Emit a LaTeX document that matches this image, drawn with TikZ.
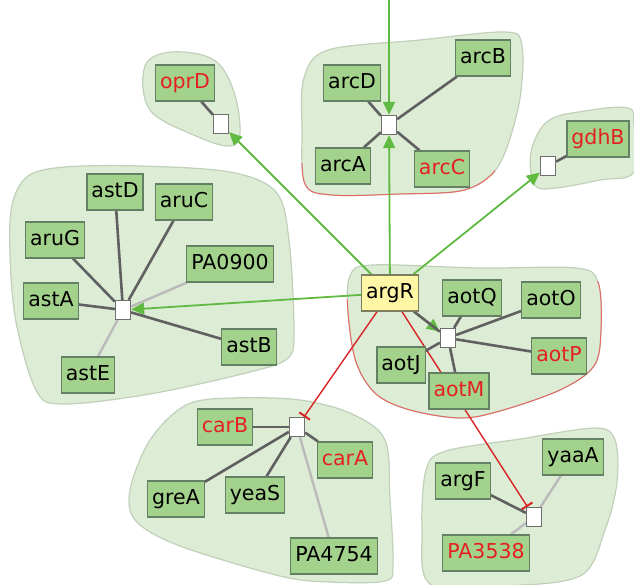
\documentclass[tikz,border=0pt]{standalone}
\usepackage{fontspec}
\setmainfont{DejaVu Sans}
\usetikzlibrary{arrows.meta}
\pgfdeclarelayer{hulls}
\pgfdeclarelayer{links}
\pgfsetlayers{hulls,links,main}

\definecolor{hullfill}{RGB}{221,236,213}
\definecolor{hullline}{RGB}{192,208,186}
\definecolor{hullred}{RGB}{228,105,100}
\definecolor{genefill}{RGB}{163,210,140}
\definecolor{geneline}{RGB}{100,128,100}
\definecolor{tfill}{RGB}{255,247,165}
\definecolor{tline}{RGB}{125,125,95}
\definecolor{namered}{RGB}{228,32,32}
\definecolor{actgreen}{RGB}{96,186,66}
\definecolor{repred}{RGB}{216,36,36}
\definecolor{strong}{RGB}{96,96,96}
\definecolor{weak}{RGB}{186,186,186}
\definecolor{hubline}{RGB}{110,110,110}

\newcommand\genefont{\fontsize{20.5}{24}\selectfont}

% outlines of the complexes (pixel grid, y downwards)
\newcommand\oprDhull{plot[smooth cycle,tension=0.6] coordinates {(145,66) (172,52) (214,60) (234,92) (240,134) (229,146) (196,136) (150,110)}}
\newcommand\archull{plot[smooth cycle,tension=0.55] coordinates {(304,78) (328,50) (420,40) (506,32) (522,46) (520,98) (506,150) (490,176) (460,191) (400,194) (332,195) (305,184) (302,130)}}
\newcommand\gdhBhull{plot[smooth cycle,tension=0.6] coordinates {(531,152) (548,121) (585,111) (628,108) (634,125) (634,172) (600,180) (556,188) (535,185)}}
\newcommand\asthull{plot[smooth cycle,tension=0.55] coordinates {(12,205) (28,176) (65,167) (140,166) (230,172) (276,192) (289,240) (294,330) (288,358) (250,372) (150,394) (62,404) (36,390) (16,322) (10,255)}}
\newcommand\aothull{plot[smooth cycle,tension=0.55] coordinates {(350,276) (372,265) (480,268) (576,268) (598,282) (601,330) (594,366) (560,390) (500,411) (460,418) (410,410) (376,394) (356,362) (348,312)}}
\newcommand\carhull{plot[smooth cycle,tension=0.55] coordinates {(150,440) (186,405) (232,398) (300,400) (352,414) (385,440) (390,500) (393,565) (385,581) (330,582) (280,576) (180,546) (136,521) (130,490)}}
\newcommand\pahull{plot[smooth cycle,tension=0.55] coordinates {(426,470) (446,451) (520,439) (595,428) (615,440) (617,482) (605,530) (580,576) (500,586) (430,584) (422,530)}}

\begin{document}
\begin{tikzpicture}[x=1pt,y=-1pt,
  gene/.style={draw=geneline, line width=1.2pt, fill=genefill, minimum height=36pt,
    inner xsep=4.5pt, inner ysep=0pt, text height=15pt, text depth=4.5pt,
    font=\genefont, text=black},
  genered/.style={gene, text=namered},
  tf/.style={gene, fill=tfill, draw=tline},
  hub/.style={draw=hubline, fill=white, line width=1.3pt, minimum width=15pt,
    minimum height=19pt, inner sep=0pt},
  hull/.style={fill=hullfill, draw=hullline, line width=1.2pt},
  redrim/.style={draw=hullred, line width=1pt},
  member/.style={draw=strong, line width=2.6pt},
  weakmember/.style={draw=weak, line width=2.4pt},
  activates/.style={draw=actgreen, line width=1.8pt, -{Triangle[length=13pt,width=12pt]}},
  represses/.style={draw=repred, line width=1.4pt, -{Bar[width=13pt,line width=2pt]}}]

\useasboundingbox (0,0) rectangle (634,584);

% complexes
\begin{pgfonlayer}{hulls}
  \path[hull] \oprDhull;
  \path[hull] \archull;
  \path[hull] \gdhBhull;
  \path[hull] \asthull;
  \path[hull] \aothull;
  \path[hull] \carhull;
  \path[hull] \pahull;
  \begin{scope}
    \clip (290,163) rectangle (495,215);
    \path[redrim] \archull;
  \end{scope}
  \begin{scope}
    \clip (340,300) -- (612,280) -- (612,430) -- (340,430) -- cycle;
    \path[redrim] \aothull;
  \end{scope}
\end{pgfonlayer}

% genes
\node[genered] (oprD) at (185,83) {oprD};
\node[hub] (hO) at (221,124) {};

\node[gene] (arcD) at (352,83) {arcD};
\node[gene] (arcB) at (483,58) {arcB};
\node[gene] (arcA) at (343,166) {arcA};
\node[genered] (arcC) at (442,169) {arcC};
\node[hub] (hArc) at (389,125) {};

\node[genered] (gdhB) at (598,139) {gdhB};
\node[hub] (hG) at (548,166) {};

\node[gene] (astD) at (115,192) {astD};
\node[gene] (aruC) at (184,202) {aruC};
\node[gene] (aruG) at (55,240) {aruG};
\node[gene] (PA0900) at (230,264) {PA0900};
\node[gene] (astA) at (51,301) {astA};
\node[gene] (astB) at (249,347) {astB};
\node[gene] (astE) at (88,375) {astE};
\node[hub] (hAst) at (123,310) {};

\node[tf] (argR) at (390,293) {argR};
\node[gene] (aotQ) at (472,298) {aotQ};
\node[gene] (aotO) at (551,300) {aotO};
\node[gene] (aotJ) at (401,365) {aotJ};
\node[genered] (aotP) at (559,356) {aotP};
\node[genered] (aotM) at (459,391) {aotM};
\node[hub] (hAot) at (448,338) {};

\node[genered] (carB) at (225,427) {carB};
\node[genered] (carA) at (345,460) {carA};
\node[gene] (greA) at (176,499) {greA};
\node[gene] (yeaS) at (255,495) {yeaS};
\node[gene] (PA4754) at (334,556) {PA4754};
\node[hub] (hCar) at (297,427) {};

\node[gene] (yaaA) at (573,457) {yaaA};
\node[gene] (argF) at (463,481) {argF};
\node[genered] (PA3538) at (486,553) {PA3538};
\node[hub] (hPA) at (534,517) {};

\coordinate (inflow) at (389,0);

\begin{pgfonlayer}{links}
  % regulation by argR
  \draw[activates] (inflow) -- (hArc);
  \draw[activates] (argR) -- (hArc);
  \draw[activates] (argR) -- (hO);
  \draw[activates] (argR) -- (hG);
  \draw[activates] (argR) -- (hAst);
  \draw[activates] (argR) -- (hAot);
  \draw[represses] (argR) -- (hCar);
  \draw[represses] (argR) -- (hPA);

  % complex membership
  \draw[member] (hO) -- (oprD);
  \draw[member] (hArc) -- (arcD);
  \draw[member] (hArc) -- (arcB);
  \draw[member] (hArc) -- (arcA);
  \draw[member] (hArc) -- (arcC);
  \draw[member] (hG) -- (gdhB);
  \draw[member] (hAst) -- (astD);
  \draw[member] (hAst) -- (aruC);
  \draw[member] (hAst) -- (aruG);
  \draw[member] (hAst) -- (astA);
  \draw[member] (hAst) -- (astB);
  \draw[weakmember] (hAst) -- (PA0900);
  \draw[weakmember] (hAst) -- (astE);
  \draw[member] (hAot) -- (argR);
  \draw[member] (hAot) -- (aotQ);
  \draw[member] (hAot) -- (aotO);
  \draw[member] (hAot) -- (aotJ);
  \draw[member] (hAot) -- (aotP);
  \draw[member] (hAot) -- (aotM);
  \draw[member] (hCar) -- (carB);
  \draw[member] (hCar) -- (carA);
  \draw[member] (hCar) -- (greA);
  \draw[member] (hCar) -- (yeaS);
  \draw[weakmember] (hCar) -- (PA4754);
  \draw[member] (hPA) -- (argF);
  \draw[weakmember] (hPA) -- (yaaA);
  \draw[weakmember] (hPA) -- (PA3538);
\end{pgfonlayer}
\end{tikzpicture}
\end{document}
